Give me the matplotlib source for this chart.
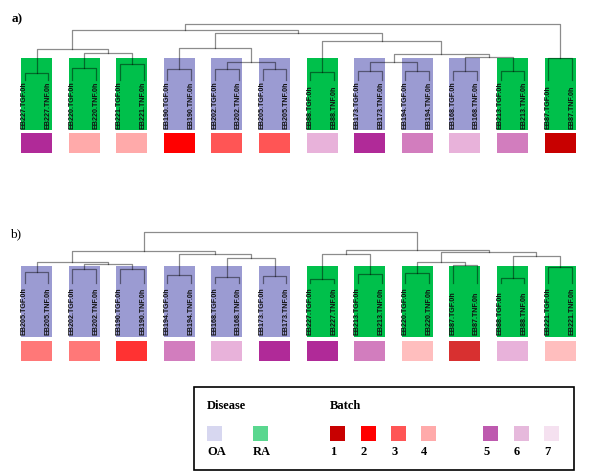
import matplotlib
matplotlib.use("Agg")
import matplotlib.pyplot as plt
from matplotlib.patches import Rectangle

# ---------------------------------------------------------------------------
# data: two hierarchical clusterings of 12 patient pairs (TGF / TNF at 0h)
# ---------------------------------------------------------------------------
samples_a = ["EB227", "EB220", "EB221", "EB190", "EB202", "EB205",
             "EB88", "EB173", "EB194", "EB168", "EB213", "EB87"]
disease_a = ["RA", "RA", "RA", "OA", "OA", "OA", "RA", "OA", "OA", "OA", "RA", "RA"]
batch_a = [5, 4, 4, 2, 3, 3, 7, 5, 6, 7, 6, 1]
pair_height_a = [7.3, 11.7, 16, 10.7, 10.7, 10.7, 8.3, 9.3, 9.3, 9.3, 9.3, 22]
# linkage-style merges: (left node, right node, height); new ids start at 12
merges_a = [(1, 2, 26.7), (0, 12, 30.7), (4, 5, 17.7), (3, 14, 32.3),
            (7, 8, 18.3), (9, 10, 22.7), (16, 17, 26), (6, 18, 39.3),
            (15, 19, 46.7), (13, 20, 50), (21, 11, 55.7)]

samples_b = ["EB205", "EB202", "EB190", "EB194", "EB168", "EB173",
             "EB227", "EB213", "EB220", "EB87", "EB88", "EB221"]
disease_b = ["OA"] * 6 + ["RA"] * 6
batch_b = [3, 3, 2, 6, 7, 5, 5, 6, 4, 1, 7, 4]
pair_height_b = [11.3, 14, 14, 8, 6, 7, 4, 9, 10, 18, 5, 16]
merges_b = [(1, 2, 18.7), (0, 12, 21.3), (4, 5, 24.7), (3, 14, 28.7),
            (13, 15, 32), (6, 7, 28.7), (8, 9, 20.7), (10, 11, 27.3),
            (18, 19, 30.7), (17, 20, 33), (16, 21, 51.3)]

stimuli = ["TGF", "TNF"]

disease_colors = {"OA": "#9B9BD2", "RA": "#00C04B"}
batch_colors_a = {1: "#C80000", 2: "#FF0000", 3: "#FF5555", 4: "#FFAAAA",
                  5: "#B02A98", 6: "#D27DBE", 7: "#E8B2DA"}
batch_colors_b = {1: "#D83030", 2: "#FF3232", 3: "#FF7878", 4: "#FFBEBE",
                  5: "#B02A98", 6: "#D27DBE", 7: "#E8B2DA"}

legend_disease = ["OA", "RA"]
legend_disease_colors = ["#D7D7F0", "#5AD78F"]
legend_batches = ["1", "2", "3", "4", "5", "6", "7"]
legend_batch_colors = ["#C80000", "#FF0000", "#FF5555", "#FFAAAA",
                       "#BE5AAF", "#E6B9DC", "#F5E1F0"]

W, H = 600, 472
PAIR_DX = 47.6      # px between pair boxes
FIRST_X = 36.5      # px centre of first box
LEAF_OFF = 0.25     # leaf offset inside a box (pair units)
BOX_HALF = 0.325
LINE = (0, 0, 0, 0.45)
LABEL_FONT = ["Liberation Sans", "DejaVu Sans"]
SERIF = ["Liberation Serif", "DejaVu Serif"]


def panel_axes(fig, top_px, bottom_px, base_px):
    ax = fig.add_axes([0, 1 - bottom_px / H, 1, (bottom_px - top_px) / H])
    ax.set_xlim(-FIRST_X / PAIR_DX, (W - FIRST_X) / PAIR_DX)
    ax.set_ylim(base_px - bottom_px, base_px - top_px)
    ax.axis("off")
    return ax


def draw_panel(ax, samples, disease, batch, pair_h, merges, bcolors,
               box_top, box_bot, sq_top, sq_bot, text_y):
    n = len(samples)
    xs = {}
    hs = {}
    for i, name in enumerate(samples):
        ax.add_patch(Rectangle((i - BOX_HALF, box_bot), 2 * BOX_HALF,
                               box_top - box_bot, facecolor=disease_colors[disease[i]],
                               edgecolor="none", zorder=1))
        ax.add_patch(Rectangle((i - BOX_HALF, sq_bot), 2 * BOX_HALF,
                               sq_top - sq_bot, facecolor=bcolors[batch[i]],
                               edgecolor="none", zorder=1))
        xl, xr, h = i - LEAF_OFF, i + LEAF_OFF, pair_h[i]
        ax.plot([xl, xl, xr, xr], [0, h, h, 0], color=LINE, lw=0.9, zorder=3)
        for x, stim in zip((xl - 0.01, xr - 0.01), stimuli):
            ax.text(x, text_y, f"{name}.{stim}.0h", rotation=90,
                    ha="center", va="bottom", fontsize=5.1, fontweight="bold",
                    family=LABEL_FONT, color="#111111", zorder=4)
        xs[i], hs[i] = i, h
    for k, (a, b, h) in enumerate(merges):
        ax.plot([xs[a], xs[a], xs[b], xs[b]], [hs[a], h, h, hs[b]],
                color=LINE, lw=0.9, zorder=3)
        xs[n + k] = (xs[a] + xs[b]) / 2
        hs[n + k] = h


fig = plt.figure(figsize=(6, 4.72), dpi=100)

ax_a = panel_axes(fig, 0, 165, 80)
draw_panel(ax_a, samples_a, disease_a, batch_a, pair_height_a, merges_a,
           batch_colors_a, box_top=22, box_bot=-50, sq_top=-53, sq_bot=-73,
           text_y=-49)

ax_b = panel_axes(fig, 190, 375, 283)
draw_panel(ax_b, samples_b, disease_b, batch_b, pair_height_b, merges_b,
           batch_colors_b, box_top=17.3, box_bot=-53.7, sq_top=-57.7,
           sq_bot=-78, text_y=-52)

# overlay in pixel units for panel tags and the legend box
ov = fig.add_axes([0, 0, 1, 1], zorder=-1)
ov.set_xlim(0, W)
ov.set_ylim(H, 0)
ov.axis("off")
ov.text(12, 19, "a)", fontsize=9.5, family=SERIF, fontweight="bold",
        va="center", ha="left")
ov.text(10, 234, "b)", fontsize=9.5, family=SERIF, va="center", ha="left")

ov.add_patch(Rectangle((194, 387), 380, 83, facecolor="white",
                       edgecolor="black", lw=1.2))
ov.text(207, 406, "Disease", fontsize=9, family=SERIF, fontweight="bold",
        va="center", ha="left")
ov.text(330, 406, "Batch", fontsize=9, family=SERIF, fontweight="bold",
        va="center", ha="left")
sq_x = [207, 253]
for x, lab, col in zip(sq_x, legend_disease, legend_disease_colors):
    ov.add_patch(Rectangle((x, 426), 15, 15, facecolor=col, edgecolor="none"))
    ov.text(x, 452, lab, fontsize=9, family=SERIF, fontweight="bold",
            va="center", ha="left")
bx = [330, 360.5, 391, 421, 483, 513.5, 544]
for x, lab, col in zip(bx, legend_batches, legend_batch_colors):
    ov.add_patch(Rectangle((x, 426), 15, 15, facecolor=col, edgecolor="none"))
    ov.text(x, 452, lab, fontsize=9, family=SERIF, fontweight="bold",
            va="center", ha="left")

fig.savefig("out.png", dpi=100, facecolor="white")
